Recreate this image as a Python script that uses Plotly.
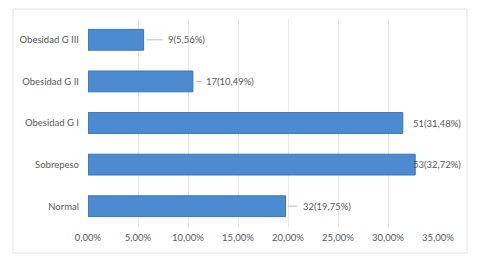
import plotly.graph_objects as go

categories = ["Normal", "Sobrepeso", "Obesidad G I", "Obesidad G II", "Obesidad G III"]
counts = [32, 53, 51, 17, 9]
percents = [0.1975, 0.3272, 0.3148, 0.1049, 0.0556]
tick_vals = [0, 0.05, 0.10, 0.15, 0.20, 0.25, 0.30, 0.35]
tick_text = ["0,00%", "5,00%", "10,00%", "15,00%", "20,00%", "25,00%", "30,00%", "35,00%"]

# label placement (pixels beyond bar end) and leader line extents
label_shift = [15, -4, 8, 11, 22]
leader = [(2, 12), None, None, (3, 9), (3, 19)]

TEXT = "#595959"
FONT = "Lato, Open Sans, sans-serif"

fig = go.Figure()
fig.add_trace(go.Bar(
    y=categories, x=percents, orientation="h",
    marker=dict(color="#4d8bd1", line=dict(color="#3b74b8", width=1)),
    width=0.5, hoverinfo="skip",
))

for c, n, p, s, ld in zip(categories, counts, percents, label_shift, leader):
    txt = f"{n}({p*100:.2f}%)".replace(".", ",")
    fig.add_annotation(x=p, y=c, text=txt, showarrow=False, xanchor="left",
                       xshift=s, width=64, align="left",
                       font=dict(size=9.5, color=TEXT, family=FONT))
    if ld:
        fig.add_shape(type="line", xref="x", yref="y", xsizemode="pixel", xanchor=p,
                      x0=ld[0], x1=ld[1], y0=c, y1=c,
                      line=dict(color="#bfbfbf", width=1))

# chart border
fig.add_shape(type="rect", xref="paper", yref="paper",
              x0=-75/350, x1=1 + 29/350, y0=-26/208, y1=1 + 10/208,
              line=dict(color="#e3e3e3", width=1))

fig.update_layout(
    width=477, height=260,
    margin=dict(l=88, r=39, t=19, b=33),
    paper_bgcolor="white", plot_bgcolor="white",
    showlegend=False, bargap=0.5,
    separators=",.",
    font=dict(family=FONT, size=9.5, color=TEXT),
)
fig.update_xaxes(range=[0, 0.35], tickvals=tick_vals, ticktext=tick_text,
                 showgrid=True, gridcolor="#e8e8e8", gridwidth=1,
                 zeroline=False, showline=False, ticks="", ticklen=0,
                 automargin=False, ticklabelstandoff=3,
                 tickfont=dict(size=9.5, color=TEXT, family=FONT))
fig.update_yaxes(showgrid=False, zeroline=False, showline=False, ticks="",
                 ticklabelstandoff=8, automargin=False,
                 tickfont=dict(size=9.5, color=TEXT, family=FONT))

fig.write_html("out.html", config={"displayModeBar": False},
               post_script="document.body.style.margin='0';document.body.style.overflow='hidden';")
